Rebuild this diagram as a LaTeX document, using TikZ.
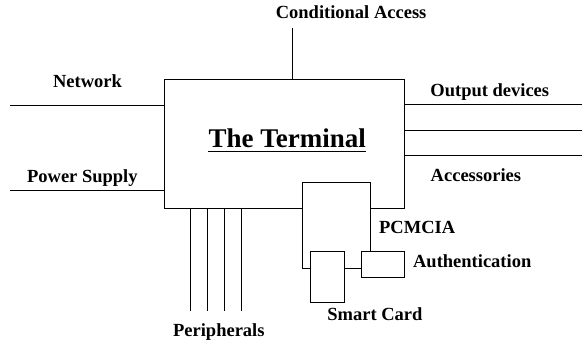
\documentclass[tikz,border=0pt]{standalone}
\usepackage{fontspec}
\setmainfont{Liberation Serif}
\begin{document}
\begin{tikzpicture}[x=1pt, y=-1pt, line width=0.85pt,
  lbl/.style={font=\fontsize{18.5}{20}\selectfont\bfseries, anchor=base west, inner sep=0pt},
  box/.style={draw, rectangle, inner sep=0pt, outer sep=0pt, fill=white, anchor=north west},
  blank/.style={rectangle, inner sep=0pt, outer sep=0pt, fill=white, anchor=north west}]
\useasboundingbox (0,0) rectangle (582,342);

% main unit
\node[box, minimum width=240.4pt, minimum height=128.6pt] (term) at (164.3,79.7) {};
\node[font=\fontsize{27}{30}\selectfont\bfseries, anchor=base, inner sep=0pt] (title) at (287.3,147.7) {The Terminal};
\draw[line width=1.1pt] ([yshift=-3.4pt]title.base west) -- ([yshift=-3.4pt]title.base east);

% card slot and attached modules
\node[blank, minimum width=68.7pt, minimum height=69pt] (pcm) at (302,182.3) {};
\node[box, minimum width=34.4pt, minimum height=51.4pt] (card) at (310.3,251.3) {};
\node[box, minimum width=43.4pt, minimum height=25.7pt] (auth) at (361.3,251.3) {};
\coordinate (join) at (302,268.7);
\draw (join) -- (pcm.north west) -- (pcm.north east) -- (pcm.south east);
\draw (join) -- (join -| card.west);
\draw (join -| card.east) -- (join -| auth.west);

% free ends of the interface lines
\coordinate (ca) at (292.7,27.7);
\coordinate (net) at (10,105);
\coordinate (pwr) at (10,190.7);
\coordinate (out1) at (582,104.7);
\coordinate (out2) at (582,130.7);
\coordinate (out3) at (582,155.7);

\draw (ca) -- (ca |- term.north);
\draw (net) -- (net -| term.west);
\draw (pwr) -- (pwr -| term.west);
\draw (out1 -| term.east) -- (out1);
\draw (out2 -| term.east) -- (out2);
\draw (out3 -| term.east) -- (out3);
\foreach \x [count=\i] in {190,207,224,241} {
  \coordinate (per\i) at (\x,311.3);
  \draw (per\i |- term.south) -- (per\i);
}

% labels
\node[lbl] (lca) at (275.4,18.3) {Conditional Access};
\node[lbl] (lnet) at (52.7,88) {Network};
\node[lbl] (lout) at (430,96.7) {Output devices};
\node[lbl] (lpwr) at (26.7,182.7) {Power Supply};
\node[lbl] (lacc) at (430.3,181.7) {Accessories};
\node[lbl] (lpcm) at (378.7,233.3) {PCMCIA};
\node[lbl] (lauth) at (412.7,267.7) {Authentication};
\node[lbl] (lcard) at (327,320.3) {Smart Card};
\node[lbl] (lper) at (172.7,336.3) {Peripherals};
\end{tikzpicture}
\end{document}
